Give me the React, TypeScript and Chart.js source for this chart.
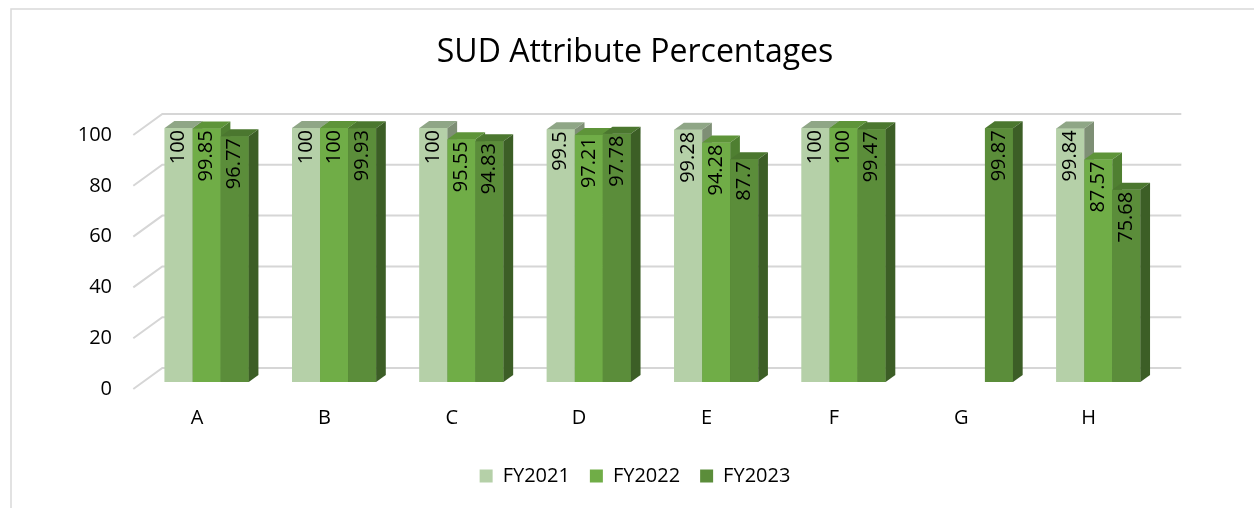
import React, { useEffect, useRef } from 'react';
import { Chart, registerables } from 'chart.js';

Chart.register(...registerables);

const categories = ['A', 'B', 'C', 'D', 'E', 'F', 'G', 'H'];
const seriesNames = ['FY2021', 'FY2022', 'FY2023'];
const fy2021 = [100, 100, 100, 99.5, 99.28, 100, null, 99.84];
const fy2022 = [99.85, 100, 95.55, 97.21, 94.28, 100, null, 87.57];
const fy2023 = [96.77, 99.93, 94.83, 97.78, 87.7, 99.47, 99.87, 75.68];
const yTicks = [0, 20, 40, 60, 80, 100];
const titleText = 'SUD Attribute Percentages';

const frontColors = ['#b5d0a8', '#70ad47', '#5b8d3a'];
const topColors = ['#8fa686', '#5e9439', '#4b772f'];
const sideColors = ['#7e8f75', '#4f7f31', '#3c5e26'];

const FONT = "'Open Sans', 'Noto Sans', sans-serif";
const DX = 9.7;
const DY = -7;
const WX = 29;
const WY = -21;

function poly(ctx: CanvasRenderingContext2D, pts: number[][]) {
  ctx.beginPath();
  ctx.moveTo(pts[0][0], pts[0][1]);
  for (let i = 1; i < pts.length; i++) ctx.lineTo(pts[i][0], pts[i][1]);
  ctx.closePath();
  ctx.fill();
}

const threeD = {
  id: 'threeD',
  beforeDraw(chart: any) {
    const ctx = chart.ctx;
    ctx.save();
    ctx.strokeStyle = '#d9d9d9';
    ctx.lineWidth = 1.5;
    ctx.beginPath();
    ctx.moveTo(11, 520);
    ctx.lineTo(11, 9);
    ctx.lineTo(1270, 9);
    ctx.stroke();
    ctx.restore();
  },
  beforeDatasetsDraw(chart: any) {
    const { ctx, chartArea, scales } = chart;
    const y = scales.y;
    ctx.save();
    ctx.strokeStyle = '#d6d6d6';
    ctx.lineWidth = 2;
    y.ticks.forEach((t: any) => {
      const py = y.getPixelForValue(t.value);
      const fx = chartArea.left - DX;
      const fy = py - DY;
      const bx = fx + WX;
      const by = fy + WY;
      ctx.beginPath();
      ctx.moveTo(fx, fy);
      ctx.lineTo(bx, by);
      ctx.lineTo(chartArea.right - DX + WX, by);
      ctx.stroke();
    });
    ctx.restore();
  },
  afterDatasetsDraw(chart: any) {
    const ctx = chart.ctx;
    const metas = chart.data.datasets.map((_: any, i: number) => chart.getDatasetMeta(i));
    ctx.save();
    for (let i = 0; i < categories.length; i++) {
      metas.forEach((meta: any, d: number) => {
        const v = chart.data.datasets[d].data[i];
        const el = meta.data[i];
        if (v == null || !el) return;
        const { x, y, base, width } = el.getProps(['x', 'y', 'base', 'width'], true);
        const L = x - width / 2;
        const R = x + width / 2;
        ctx.fillStyle = frontColors[d];
        ctx.fillRect(L, y, width, base - y);
        ctx.fillStyle = topColors[d];
        poly(ctx, [[L, y], [L + DX, y + DY], [R + DX, y + DY], [R, y]]);
        ctx.fillStyle = sideColors[d];
        poly(ctx, [[R, y], [R + DX, y + DY], [R + DX, base + DY], [R, base]]);
      });
    }
    ctx.fillStyle = '#000';
    ctx.font = `20px ${FONT}`;
    ctx.textAlign = 'right';
    ctx.textBaseline = 'middle';
    metas.forEach((meta: any, d: number) => {
      meta.data.forEach((el: any, i: number) => {
        const v = chart.data.datasets[d].data[i];
        if (v == null) return;
        const { x, y } = el.getProps(['x', 'y'], true);
        ctx.save();
        ctx.translate(x, y + 2);
        ctx.rotate(-Math.PI / 2);
        ctx.fillText(String(v), 0, 0);
        ctx.restore();
      });
    });
    ctx.restore();
  },
};

export default function App() {
  const ref = useRef<HTMLCanvasElement>(null);
  useEffect(() => {
    if (!ref.current) return;
    const series = [fy2021, fy2022, fy2023];
    const chart = new Chart(ref.current, {
      type: 'bar',
      data: {
        labels: categories,
        datasets: series.map((s, i) => ({
          label: seriesNames[i],
          data: s,
          backgroundColor: frontColors[i],
          borderWidth: 0,
          barPercentage: 1,
          categoryPercentage: 0.66,
        })),
      },
      options: {
        responsive: false,
        animation: false,
        devicePixelRatio: 1,
        layout: { padding: { top: 14, bottom: 12, left: 16, right: 0 } },
        plugins: {
          title: {
            display: true,
            text: titleText,
            color: '#000',
            font: { family: FONT, size: 32, weight: 'normal' },
            padding: { top: 20, bottom: 55.6 },
          },
          legend: {
            position: 'bottom',
            labels: {
              color: '#000',
              font: { family: FONT, size: 20 },
              boxWidth: 13,
              boxHeight: 13,
              padding: 20,
            },
          },
          tooltip: { enabled: false },
        },
        scales: {
          x: {
            grid: { display: false, drawTicks: false },
            border: { display: false },
            ticks: {
              color: '#000',
              font: { family: FONT, size: 20 },
              padding: 24,
              labelOffset: -9.7,
            },
            afterFit: (s: any) => {
              s.height = 64;
            },
          },
          y: {
            min: 0,
            max: 100,
            grid: { display: false, drawTicks: false },
            border: { display: false },
            afterBuildTicks: (s: any) => {
              s.ticks = yTicks.map((v) => ({ value: v }));
            },
            ticks: {
              color: '#000',
              font: { family: FONT, size: 20 },
              padding: 31,
              labelOffset: 7,
            },
            afterFit: (s: any) => {
              s.width = 127;
            },
          },
          yRight: {
            position: 'right',
            min: 0,
            max: 100,
            grid: { display: false, drawTicks: false },
            border: { display: false },
            ticks: { display: false },
            afterFit: (s: any) => {
              s.width = 92;
            },
          },
        },
      },
      plugins: [threeD],
    });
    return () => chart.destroy();
  }, []);
  return (
    <div style={{ position: 'absolute', left: 0, top: 0, width: 1254, height: 508, background: '#fff' }}>
      <canvas ref={ref} width={1254} height={508} />
    </div>
  );
}
